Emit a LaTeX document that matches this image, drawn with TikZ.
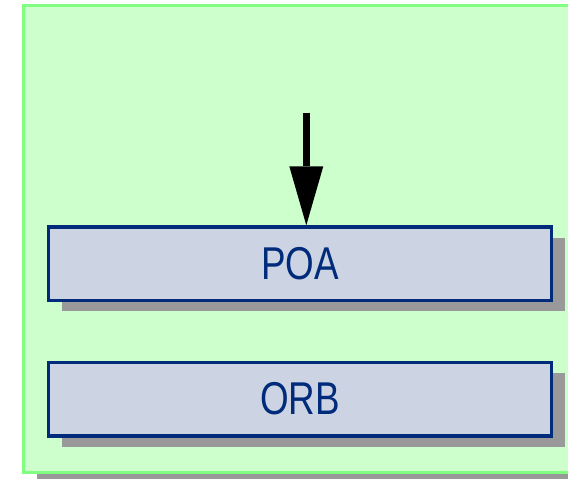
\documentclass[tikz,border=0pt]{standalone}
\usepackage{fontspec}
\setmainfont{Liberation Sans}
\usetikzlibrary{arrows.meta,shadows}
\definecolor{panelfill}{HTML}{CCFFCC}
\definecolor{paneledge}{HTML}{80FF80}
\definecolor{layerfill}{HTML}{CCD4E4}
\definecolor{layeredge}{RGB}{0,42,122}
\definecolor{shadowgray}{HTML}{999999}
\tikzset{
  layer/.style={draw=layeredge, fill=layerfill, line width=3.3pt,
    minimum width=503pt, minimum height=73.5pt, inner sep=0pt,
    text=layeredge, font=\fontsize{46pt}{50pt}\selectfont,
    drop shadow={shadow xshift=13pt, shadow yshift=-11pt,
      fill=shadowgray, opacity=1}},
  panel/.style={draw=paneledge, fill=panelfill, line width=3.2pt},
  flow/.style={line width=7pt,
    -{Triangle[width=34pt,length=59pt,line width=0pt]}}
}
\newcommand{\lbl}[1]{\scalebox{0.8}[1]{#1}}
\begin{document}
\begin{tikzpicture}[x=1pt,y=-1pt]
  \useasboundingbox (0,0) rectangle (568,479);
  \clip (0,0) rectangle (568,479);
  % container panel with its shadow, running off the right edge
  \fill[shadowgray] (36.5,16.5) rectangle (620,490);
  \draw[panel] (23.5,5.5) rectangle (620,472.3);
  % the two layers
  \node[layer] (poa) at (300.2,263.7) {\lbl{POA}};
  \node[layer] (orb) at (300.2,399.1) {\lbl{ORB}};
  % incoming request
  \coordinate (src) at (306.3,112.7);
  \draw[flow] (src) -- (src |- poa.north);
\end{tikzpicture}
\end{document}
